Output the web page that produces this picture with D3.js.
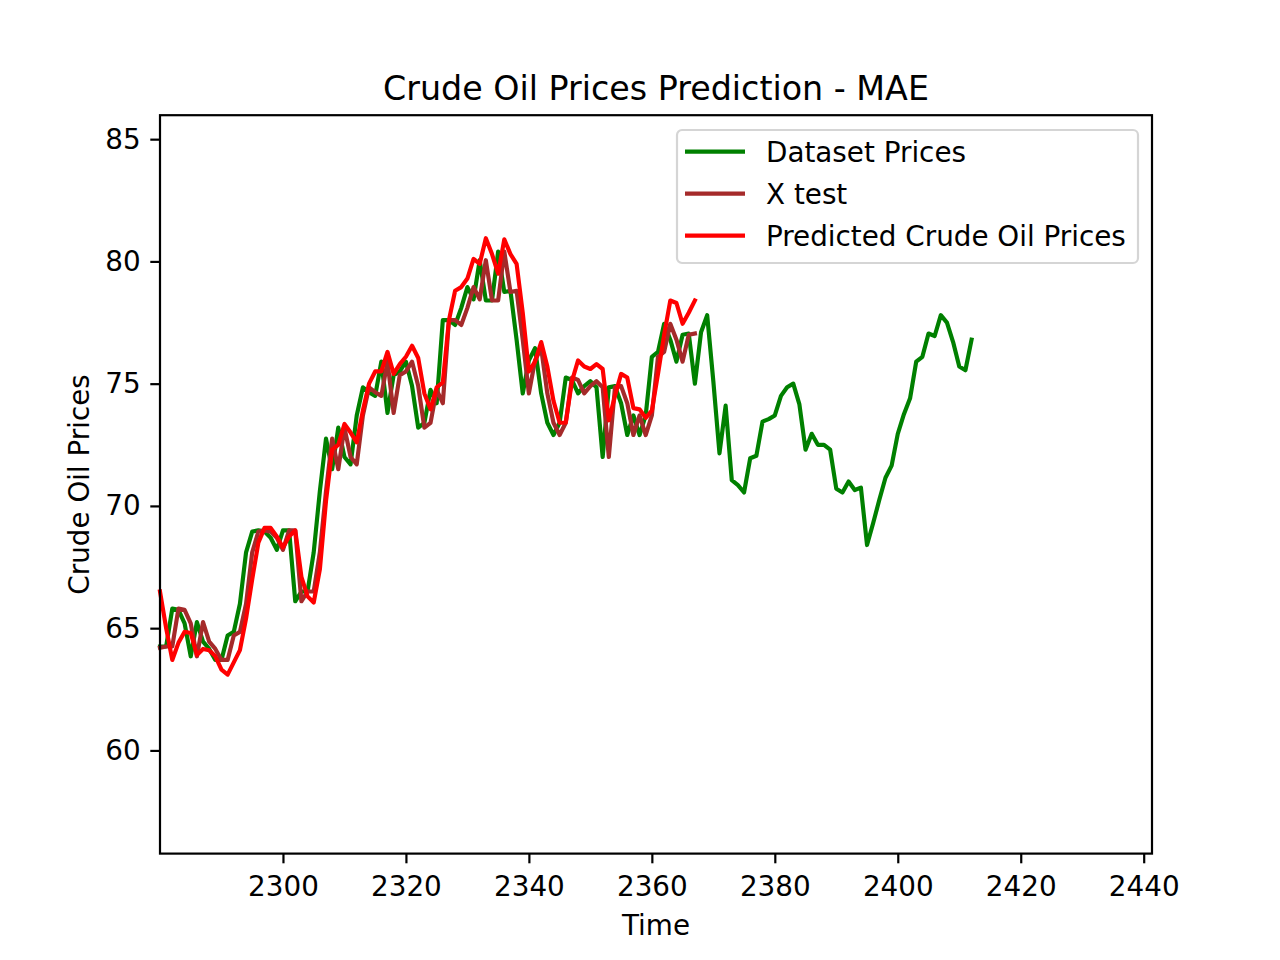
<!DOCTYPE html>
<html>
<head>
<meta charset="utf-8">
<script src="https://cdn.jsdelivr.net/npm/d3@7"></script>
<style>
  body { margin: 0; background: #ffffff; }
  svg { display: block; font-family: "DejaVu Sans", sans-serif; }
</style>
</head>
<body>
<main></main>
<script>
// Time index of the first point of each series
const startTime = 2280;

// Dataset prices, one value per time step from 2280 to 2412
const datasetPrices = [
    64.25, 64.25, 65.8, 65.75, 65.2, 63.85, 65.25, 64.45, 64.15, 63.7,
    63.7, 64.7, 64.85, 66.0, 68.1, 68.95, 69.0, 68.95, 68.7, 68.2,
    69.0, 69.0, 66.1, 66.5, 66.5, 68.1, 70.6, 72.75, 71.5, 73.2,
    72.0, 71.7, 73.7, 74.85, 74.65, 74.5, 75.9, 73.8, 75.35, 75.5,
    75.9, 74.9, 73.2, 73.4, 74.75, 74.2, 77.6, 77.6, 77.4, 78.1,
    78.95, 78.45, 80.05, 78.4, 78.4, 80.4, 78.75, 78.8, 76.8, 74.6,
    75.95, 76.45, 74.6, 73.4, 72.9, 73.4, 75.25, 75.15, 74.6, 74.9,
    75.1, 74.85, 72.0, 74.85, 74.9, 74.2, 72.9, 73.7, 72.9, 73.7,
    76.1, 76.3, 77.45, 76.8, 75.9, 77.0, 77.05, 75.0, 77.1, 77.8,
    75.1, 72.15, 74.1, 71.05, 70.85, 70.55, 71.95, 72.05, 73.45, 73.55,
    73.7, 74.5, 74.85, 75.0, 74.15, 72.3, 72.95, 72.5, 72.5, 72.3,
    70.7, 70.55, 71.0, 70.65, 70.75, 68.4, 69.3, 70.25, 71.15, 71.65,
    72.95, 73.75, 74.4, 75.9, 76.1, 77.05, 76.95, 77.8, 77.5, 76.7,
    75.7, 75.55, 76.8
];

// X test, 2280 to 2367
const xTest = [
    64.2, 64.25, 64.25, 65.8, 65.75, 65.2, 63.85, 65.25, 64.45, 64.15,
    63.7, 63.7, 64.7, 64.85, 66.0, 68.1, 68.95, 69.0, 68.95, 68.7,
    68.2, 69.0, 69.0, 66.1, 66.5, 66.5, 68.1, 70.6, 72.75, 71.5,
    73.2, 72.0, 71.7, 73.7, 74.85, 74.65, 74.5, 75.9, 73.8, 75.35,
    75.5, 75.9, 74.9, 73.2, 73.4, 74.75, 74.2, 77.6, 77.6, 77.4,
    78.1, 78.95, 78.45, 80.05, 78.4, 78.4, 80.4, 78.75, 78.8, 76.8,
    74.6, 75.95, 76.45, 74.6, 73.4, 72.9, 73.4, 75.25, 75.15, 74.6,
    74.9, 75.1, 74.85, 72.0, 74.85, 74.9, 74.2, 72.9, 73.7, 72.9,
    73.7, 76.1, 76.3, 77.45, 76.8, 75.9, 77.0, 77.05
];

// Predicted prices, 2280 to 2367
const predictedPrices = [
    66.5, 65.0, 63.7, 64.4, 64.85, 64.8, 63.9, 64.15, 64.1, 63.85,
    63.3, 63.1, 63.6, 64.1, 65.4, 67.0, 68.5, 69.1, 69.1, 68.75,
    68.3, 68.75, 69.0, 67.1, 66.3, 66.05, 67.4, 70.2, 72.3, 72.5,
    73.35, 73.0, 72.6, 73.9, 75.0, 75.5, 75.5, 76.3, 75.4, 75.8,
    76.1, 76.55, 76.05, 74.6, 73.95, 74.85, 75.05, 77.6, 78.8, 78.95,
    79.3, 80.1, 79.9, 80.95, 80.3, 79.5, 80.9, 80.3, 79.9, 77.9,
    75.5, 75.9, 76.7, 75.7, 74.3, 73.4, 73.4, 75.1, 75.95, 75.7,
    75.6, 75.8, 75.6, 73.5, 74.5, 75.4, 75.25, 74.0, 73.95, 73.6,
    73.9, 75.4, 77.0, 78.4, 78.3, 77.45, 77.9, 78.4
];

const xTicks = [2300, 2320, 2340, 2360, 2380, 2400, 2420, 2440];
const yTicks = [60, 65, 70, 75, 80, 85];

const seriesNames = ["Dataset Prices", "X test", "Predicted Crude Oil Prices"];
const seriesColors = ["green", "brown", "red"];

const width = 1280;
const height = 960;
const margin = { top: 115.2, right: 128, bottom: 106.4, left: 160 };
const fontSize = 27.8;
const lineW = 4.17;
const axisW = 2.2;

const x = d3.scaleLinear()
    .domain([2280, 2441.35])
    .range([margin.left, width - margin.right]);

const y = d3.scaleLinear()
    .domain([55.78, 85.98])
    .range([height - margin.bottom, margin.top]);

const svg = d3.select("main")
    .append("svg")
    .attr("width", width)
    .attr("height", height);

svg.append("rect")
    .attr("width", width)
    .attr("height", height)
    .attr("fill", "#ffffff");

const line = d3.line()
    .x((d, i) => x(startTime + i))
    .y(d => y(d));

// draw the three series, red on top
[datasetPrices, xTest, predictedPrices].forEach((values, k) => {
    svg.append("path")
        .attr("d", line(values))
        .attr("fill", "none")
        .attr("stroke", seriesColors[k])
        .attr("stroke-width", lineW)
        .attr("stroke-linejoin", "round")
        .attr("stroke-linecap", "square");
});

// axes
const xAxis = svg.append("g")
    .attr("transform", "translate(0," + (height - margin.bottom) + ")")
    .call(d3.axisBottom(x).tickValues(xTicks).tickFormat(d3.format("d"))
        .tickSize(9.7).tickPadding(12.5).tickSizeOuter(0));

const yAxis = svg.append("g")
    .attr("transform", "translate(" + margin.left + ",0)")
    .call(d3.axisLeft(y).tickValues(yTicks).tickFormat(d3.format("d"))
        .tickSize(9.7).tickPadding(9.7).tickSizeOuter(0));

[xAxis, yAxis].forEach(g => {
    g.select(".domain").remove();
    g.selectAll(".tick line").attr("stroke", "#000").attr("stroke-width", axisW);
    g.selectAll(".tick text")
        .attr("fill", "#000")
        .style("font-family", "DejaVu Sans")
        .style("font-size", fontSize + "px");
});

// frame
svg.append("rect")
    .attr("x", margin.left)
    .attr("y", margin.top)
    .attr("width", width - margin.left - margin.right)
    .attr("height", height - margin.top - margin.bottom)
    .attr("fill", "none")
    .attr("stroke", "#000")
    .attr("stroke-width", axisW);

// title and labels
svg.append("text")
    .attr("x", (margin.left + width - margin.right) / 2)
    .attr("y", 100)
    .attr("text-anchor", "middle")
    .style("font-size", "33.3px")
    .text("Crude Oil Prices Prediction - MAE");

svg.append("text")
    .attr("x", (margin.left + width - margin.right) / 2)
    .attr("y", 935)
    .attr("text-anchor", "middle")
    .style("font-size", fontSize + "px")
    .text("Time");

svg.append("text")
    .attr("transform", "translate(89," + ((margin.top + height - margin.bottom) / 2) + ")rotate(-90)")
    .attr("text-anchor", "middle")
    .style("font-size", fontSize + "px")
    .text("Crude Oil Prices");

// legend
const legend = svg.append("g").attr("transform", "translate(677,130)");

legend.append("rect")
    .attr("width", 461)
    .attr("height", 133)
    .attr("rx", 5)
    .attr("fill", "#ffffff")
    .attr("fill-opacity", 0.8)
    .attr("stroke", "#d5d5d5")
    .attr("stroke-width", 2.2);

seriesNames.forEach((name, i) => {
    const ly = 21.7 + i * 42;
    legend.append("line")
        .attr("x1", 8)
        .attr("x2", 68)
        .attr("y1", ly)
        .attr("y2", ly)
        .attr("stroke", seriesColors[i])
        .attr("stroke-width", lineW);
    legend.append("text")
        .attr("x", 89)
        .attr("y", ly + 10)
        .style("font-size", fontSize + "px")
        .text(name);
});
</script>
</body>
</html>
